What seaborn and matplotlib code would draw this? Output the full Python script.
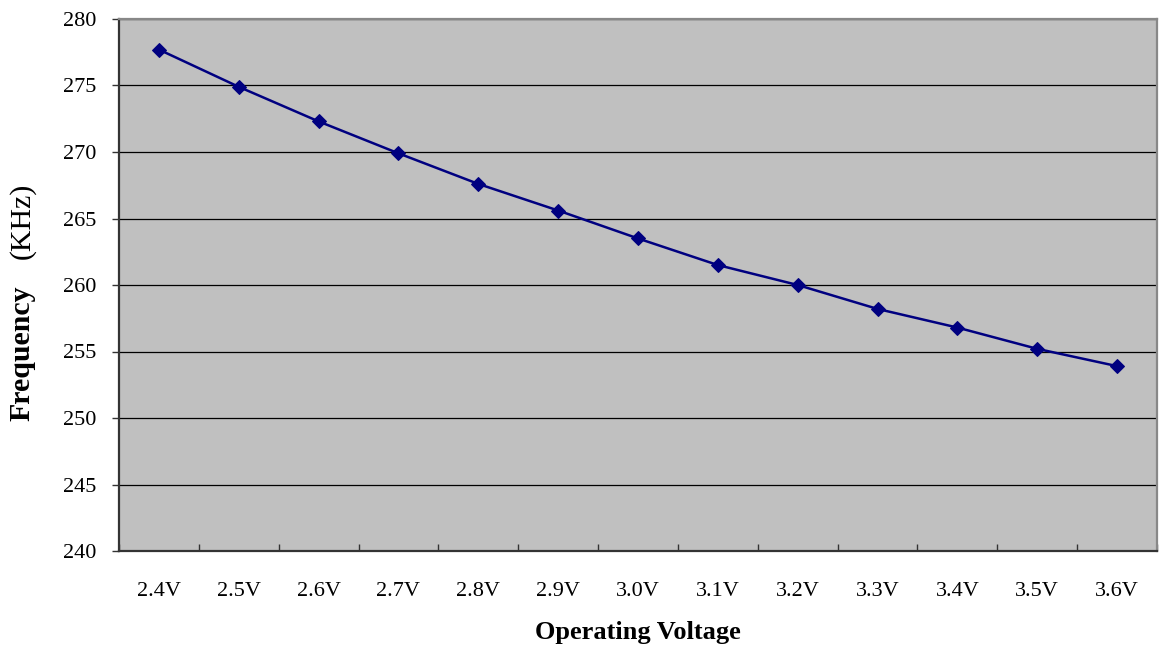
import matplotlib
matplotlib.use("Agg")
import matplotlib.pyplot as plt
import seaborn as sns
import pandas as pd
import numpy as np
from matplotlib.ticker import FixedLocator, NullFormatter

voltages = ["2.4V", "2.5V", "2.6V", "2.7V", "2.8V", "2.9V", "3.0V",
            "3.1V", "3.2V", "3.3V", "3.4V", "3.5V", "3.6V"]
frequency_khz = [277.7, 274.9, 272.3, 269.9, 267.6, 265.6, 263.5,
                 261.5, 260.0, 258.2, 256.8, 255.2, 253.9]
y_ticks = [240, 245, 250, 255, 260, 265, 270, 275, 280]

sns.set_theme(style="white")
plt.rcParams["font.family"] = ["Liberation Serif", "Noto Sans CJK SC"]
plt.rcParams["text.color"] = "black"
plt.rcParams["xtick.color"] = "black"
plt.rcParams["ytick.color"] = "black"

df = pd.DataFrame({"voltage": voltages, "freq": frequency_khz})
df["pos"] = np.arange(len(voltages))

W, H = 1163, 651
fig = plt.figure(figsize=(W / 100, H / 100), dpi=100)
ax = fig.add_axes([119 / W, 1 - 551 / H, (1157 - 119) / W, (551 - 19) / H])
ax.set_facecolor("#C0C0C0")

sns.lineplot(data=df, x="pos", y="freq", ax=ax, color="#000080",
             linewidth=1.8, marker="D", markersize=7.5,
             markeredgecolor="#000080", markerfacecolor="#000080")

ax.set_xlim(-0.5, len(voltages) - 0.5)
ax.set_ylim(240, 280)
ax.set_yticks(y_ticks)
ax.yaxis.grid(True, color="black", linewidth=0.9)
ax.set_axisbelow(True)

# category labels centred, tick marks on category boundaries
ax.set_xticks(df["pos"])
ax.set_xticklabels(voltages)
ax.xaxis.set_minor_locator(FixedLocator(np.arange(-0.5, len(voltages), 1.0)))
ax.xaxis.set_minor_formatter(NullFormatter())
ax.tick_params(axis="x", which="major", length=0, pad=22, labelsize=16,
               labelcolor="black")
ax.tick_params(axis="x", which="minor", length=5, width=1.0,
               direction="in", color="#333333", bottom=True)
ax.tick_params(axis="y", which="major", length=5, width=1.0,
               direction="out", color="#333333", left=True, pad=11,
               labelsize=16, labelcolor="black")

for side in ["left", "bottom"]:
    ax.spines[side].set_color("#333333")
    ax.spines[side].set_linewidth(1.6)
for side in ["top", "right"]:
    ax.spines[side].set_color("#888888")
    ax.spines[side].set_linewidth(1.6)
    ax.spines[side].set_visible(True)

ax.set_xlabel("Operating Voltage", fontsize=19, fontweight="bold",
              labelpad=15, color="black")
ax.set_ylabel("")

# y-axis title: bold name followed by the unit in regular weight
fig.text(22 / W, 1 - 421 / H, "Frequency", rotation=90, fontsize=21.5,
         fontweight="bold", ha="center", va="bottom", color="black")
fig.text(22 / W, 1 - 259 / H, "(KHz)", rotation=90, fontsize=21.5,
         ha="center", va="bottom", color="black")

fig.savefig("out.png", dpi=100, facecolor="white")
